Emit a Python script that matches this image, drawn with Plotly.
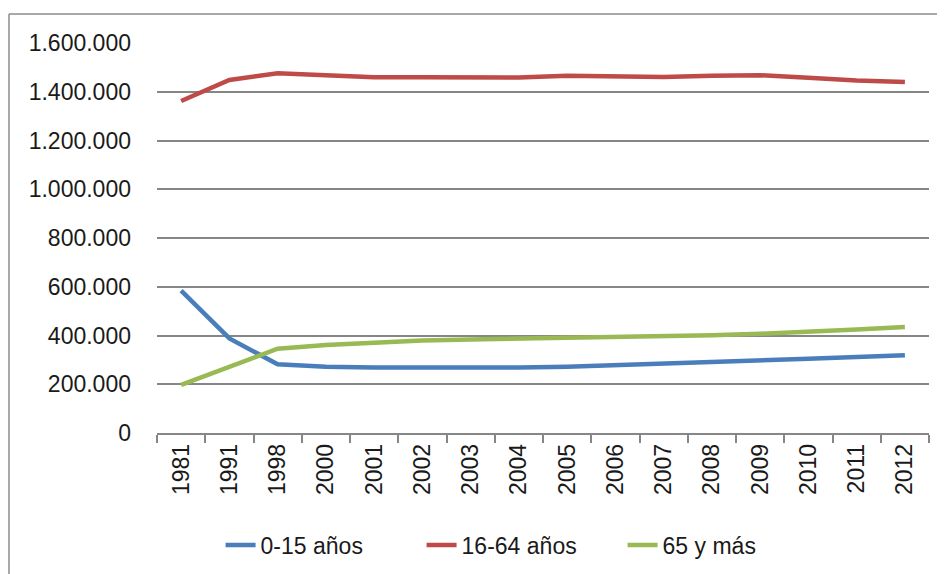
import plotly.graph_objects as go

years = ["1981", "1991", "1998", "2000", "2001", "2002", "2003", "2004",
         "2005", "2006", "2007", "2008", "2009", "2010", "2011", "2012"]
age_0_15 = [584000, 388000, 282000, 272000, 269000, 268000, 268000, 269000,
            272000, 278000, 283000, 291000, 299000, 305000, 312000, 319000]
age_16_64 = [1362000, 1448000, 1476000, 1466000, 1460000, 1460000, 1459000, 1458000,
             1466000, 1463000, 1461000, 1466000, 1468000, 1457000, 1446000, 1440000]
age_65 = [197000, 272000, 346000, 361000, 370000, 380000, 384000, 387000,
          388000, 394000, 397000, 401000, 407000, 414000, 425000, 435000]
y_ticks = [0, 200000, 400000, 600000, 800000, 1000000, 1200000, 1400000, 1600000]
y_tick_labels = ["0", "200.000", "400.000", "600.000", "800.000",
                 "1.000.000", "1.200.000", "1.400.000", "1.600.000"]

font = "Liberation Sans"
fig = go.Figure()
for name, vals, col in [("0-15 años", age_0_15, "#4a7ebb"),
                        ("16-64 años", age_16_64, "#be4b48"),
                        ("65 y más", age_65, "#98b954")]:
    fig.add_trace(go.Scatter(x=years, y=vals, name=name, mode="lines",
                             line=dict(color=col, width=4.5)))

W, H = 945, 574
OFF = 8  # page body margin
ml, mr, mt, mb = 157 - OFF, 16 + OFF, 43 - OFF, 141 + OFF
pw, ph = W - ml - mr, H - mt - mb
# outer chart border (left and top visible)
bx, by = 9 - OFF, 14 - OFF
x0 = (bx - ml) / pw
y1 = (H - mb - by) / ph
fig.add_shape(type="line", xref="paper", yref="paper", x0=x0, x1=x0, y0=y1, y1=-mb / ph - 0.05,
              line=dict(color="#8c8c8c", width=1.5))
fig.add_shape(type="line", xref="paper", yref="paper", x0=x0, x1=(W - ml + 5) / pw, y0=y1, y1=y1,
              line=dict(color="#8c8c8c", width=1.5))

fig.update_layout(
    width=W, height=H,
    margin=dict(l=ml, r=mr, t=mt, b=mb, autoexpand=False),
    paper_bgcolor="white", plot_bgcolor="white",
    font=dict(family=font, size=23, color="#1a1a1a"),
    showlegend=True,
    legend=dict(orientation="h", xref="container", x=0.544, xanchor="center",
                yref="container", y=1 - (545 - OFF) / H, yanchor="middle",
                font=dict(size=23), tracegroupgap=0, entrywidth=156),
    xaxis=dict(type="category", range=[-0.5, 15.5], tickangle=-90, ticks="outside",
               tickson="boundaries", automargin=False,
               ticklen=8, tickcolor="#868686", tickwidth=1.5,
               showline=True, linecolor="#868686", linewidth=1.5,
               showgrid=False, tickfont=dict(size=23), fixedrange=True),
    yaxis=dict(range=[0, 1600000], tickvals=y_ticks, ticktext=y_tick_labels,
               showgrid=True, gridcolor="#868686", gridwidth=1.5, automargin=False,
               zeroline=False, showline=False, ticks="", ticklabelstandoff=25,
               tickfont=dict(size=23)),
)
fig.write_html("out.html")
